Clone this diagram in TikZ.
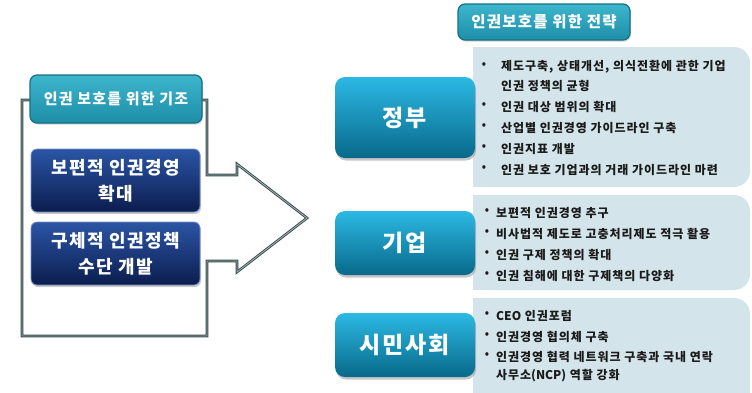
\documentclass[tikz,border=0pt]{standalone}
\usepackage{fontspec}
\setmainfont{Noto Sans CJK KR}[LetterSpace=8]
\newcommand{\lat}[1]{{\addfontfeature{LetterSpace=0}#1}}
\usetikzlibrary{shadows}
\definecolor{hdrtop}{HTML}{3DB6CD}
\definecolor{hdrbot}{HTML}{1E8EA8}
\definecolor{hdrline}{HTML}{167084}
\definecolor{btntop}{HTML}{2CB9E4}
\definecolor{btnbot}{HTML}{08698A}
\definecolor{dbtop}{HTML}{2B55A5}
\definecolor{dbbot}{HTML}{0B1D4F}
\definecolor{dbline}{HTML}{7A90C4}
\definecolor{panelc}{HTML}{D4E4EB}
\definecolor{frameout}{HTML}{34494A}
\definecolor{framein}{HTML}{A3B3B3}
\definecolor{txt}{HTML}{1A1A1A}
\begin{document}
\begin{tikzpicture}[x=1pt,y=-1pt,
  hdr/.style={rounded corners=7pt, top color=hdrtop, bottom color=hdrbot, draw=hdrline, line width=1.2pt,
    text=white, font=\bfseries\fontsize{15}{18}\selectfont,
    drop shadow={opacity=0.35, shadow xshift=1pt, shadow yshift=-1.5pt}},
  btn/.style={rounded corners=10pt, top color=btntop, bottom color=btnbot, draw=none,
    minimum width=140pt, text=white, font=\bfseries\fontsize{23}{27}\selectfont,
    drop shadow={opacity=0.45, shadow xshift=1pt, shadow yshift=-2.5pt}},
  dbox/.style={rounded corners=6pt, top color=dbtop, bottom color=dbbot, draw=dbline, line width=0.8pt,
    minimum width=169pt, minimum height=63pt, text=white, align=center,
    font=\bfseries\fontsize{18}{26}\selectfont,
    drop shadow={opacity=0.4, shadow xshift=1pt, shadow yshift=-2pt}},
  panel/.style={fill=panelc},
  item/.style={anchor=west, inner sep=0pt, text=txt, font=\bfseries\fontsize{12}{14}\selectfont},
  bul/.style={anchor=center, inner sep=0pt, text=txt, font=\bfseries\fontsize{16}{16}\selectfont},
]
\useasboundingbox (0,0) rectangle (752,392);

% ---------- left frame with block arrow ----------
\foreach \w/\c in {2.6pt/frameout, 0.8pt/framein}{
  \draw[line width=\w, color=\c, line join=miter]
    (22,100) -- (22,336) -- (207,336) -- (207,261) -- (237,261) -- (237,272)
    -- (307,218) -- (237,164) -- (237,175) -- (207,175) -- (207,100) -- cycle;
}

\node[hdr, minimum width=172pt, minimum height=48pt] (base) at (116,99) {인권 보호를 위한 기조};
\node[dbox] (b1) at (115.5,180.5) {보편적 인권경영\\확대};
\node[dbox] (b2) at (115.5,253.5) {구체적 인권정책\\수단 개발};

% ---------- right panels ----------
\begin{scope}
\clip (0,0) rectangle (752,392);
\fill[panel, rounded corners=16pt] (473,47) rectangle (750,187);
\fill[panel] (473,47) rectangle (520,187);
\fill[panel, rounded corners=16pt] (473,195) rectangle (750,290);
\fill[panel] (473,195) rectangle (520,290);
\fill[panel, rounded corners=16pt] (473,298) rectangle (750,420);
\fill[panel] (473,298) rectangle (520,420);
\end{scope}

\node[hdr, minimum width=172pt, minimum height=36pt, font=\bfseries\fontsize{15.5}{19}\selectfont] (strat) at (544,22) {인권보호를 위한 전략};

\node[btn, minimum height=81pt] (gov) at (405,117.5) {정부};
\node[btn, minimum height=64pt] (corp) at (405,243) {기업};
\node[btn, minimum height=64pt] (civ) at (405,345) {시민사회};

% panel 1
\node[bul] (g1b) at (484,67) {·};
\node[item] (g1) at (501,67) {제도구축, 상태개선, 의식전환에 관한 기업};
\node[item] (g1c) at (501,86) {인권 정책의 균형};
\node[bul] (g2b) at (484,107) {·};
\node[item] (g2) at (501,107) {인권 대상 범위의 확대};
\node[bul] (g3b) at (484,128) {·};
\node[item] (g3) at (501,128) {산업별 인권경영 가이드라인 구축};
\node[bul] (g4b) at (484,149) {·};
\node[item] (g4) at (501,149) {인권지표 개발};
\node[bul] (g5b) at (484,170) {·};
\node[item] (g5) at (501,170) {인권 보호 기업과의 거래 가이드라인 마련};

% panel 2
\node[bul] (c1b) at (487,213) {·};
\node[item] (c1) at (496,213) {보편적 인권경영 추구};
\node[bul] (c2b) at (487,234) {·};
\node[item] (c2) at (496,234) {비사법적 제도로 고충처리제도 적극 활용};
\node[bul] (c3b) at (487,255) {·};
\node[item] (c3) at (496,255) {인권 구제 정책의 확대};
\node[bul] (c4b) at (487,276) {·};
\node[item] (c4) at (496,276) {인권 침해에 대한 구제책의 다양화};

% panel 3
\node[bul] (s1b) at (487,316) {·};
\node[item] (s1) at (496,316) {\lat{CEO} 인권포럼};
\node[bul] (s2b) at (487,337) {·};
\node[item] (s2) at (496,337) {인권경영 협의체 구축};
\node[bul] (s3b) at (487,357) {·};
\node[item] (s3) at (496,357) {인권경영 협력 네트워크 구축과 국내 연락};
\node[item] (s3c) at (496,376) {사무소\lat{(NCP)} 역할 강화};
\end{tikzpicture}
\end{document}
